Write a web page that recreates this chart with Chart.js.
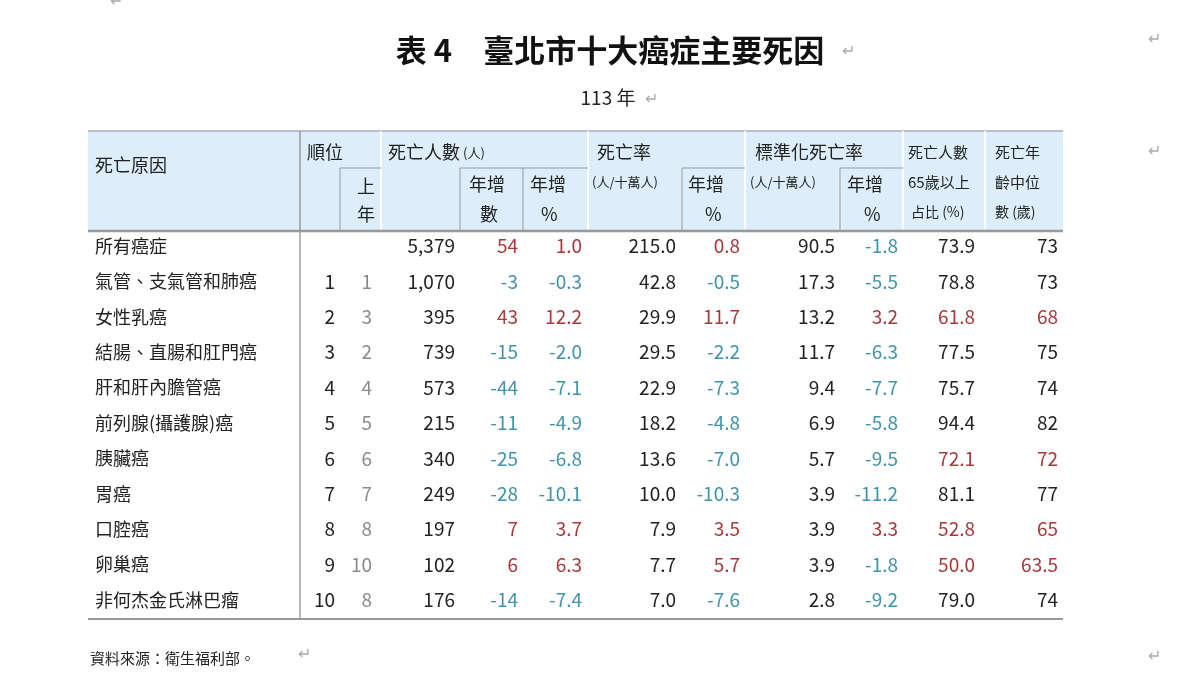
<!DOCTYPE html>
<html><head><meta charset="utf-8">
<script src="https://cdn.jsdelivr.net/npm/chart.js@4"></script>
<style>html,body{margin:0;padding:0;background:#fff}#w{width:1200px;height:675px}</style>
</head><body><div id="w"><canvas id="c"></canvas></div>
<script>
const causes=["所有癌症","氣管、支氣管和肺癌","女性乳癌","結腸、直腸和肛門癌","肝和肝內膽管癌","前列腺(攝護腺)癌","胰臟癌","胃癌","口腔癌","卵巢癌","非何杰金氏淋巴瘤"];
const rank=["","1","2","3","4","5","6","7","8","9","10"];
const rankPrev=["","1","3","2","4","5","6","7","8","10","8"];
const deaths=["5,379","1,070","395","739","573","215","340","249","197","102","176"];
const deathsChg=[54,-3,43,-15,-44,-11,-25,-28,7,6,-14];
const deathsPct=[1.0,-0.3,12.2,-2.0,-7.1,-4.9,-6.8,-10.1,3.7,6.3,-7.4];
const rate=[215.0,42.8,29.9,29.5,22.9,18.2,13.6,10.0,7.9,7.7,7.0];
const ratePct=[0.8,-0.5,11.7,-2.2,-7.3,-4.8,-7.0,-10.3,3.5,5.7,-7.6];
const stdRate=[90.5,17.3,13.2,11.7,9.4,6.9,5.7,3.9,3.9,3.9,2.8];
const stdPct=[-1.8,-5.5,3.2,-6.3,-7.7,-5.8,-9.5,-11.2,3.3,-1.8,-9.2];
const over65=[73.9,78.8,61.8,77.5,75.7,94.4,72.1,81.1,52.8,50.0,79.0];
const over65Red=[0,0,1,0,0,0,1,0,1,1,0];
const medianAge=["73","73","68","75","74","82","72","77","65","63.5","74"];
const medianRed=[0,0,1,0,0,0,1,0,1,1,0];

const RED="#a8383a",TEAL="#3f93aa",BLK="#222",GRY="#8a8a8a";
const F='"Noto Sans CJK TC","Noto Sans",sans-serif';
const plugin={id:'tbl',afterDraw(ch){
 const c=ch.ctx,X=v=>ch.scales.x.getPixelForValue(v),Y=v=>ch.scales.y.getPixelForValue(v);
 c.save();
 const t=(s,x,y,sz,col,al,bold)=>{c.font=(bold?'bold ':'')+sz+'px '+F;c.fillStyle=col||BLK;c.textAlign=al||'left';c.textBaseline='middle';c.fillText(s,X(x),Y(y));};
 const ln=(x1,y1,x2,y2,col,w)=>{c.strokeStyle=col;c.lineWidth=w||1;c.beginPath();c.moveTo(X(x1),Y(y1));c.lineTo(X(x2),Y(y2));c.stroke();};
 t("表 4　臺北市十大癌症主要死因",610,50,31,"#111",'center',true);
 t("113 年",608,98,19,"#222",'center');
 const ar=(x,y)=>t("↵",x,y,16,"#aaa");
 ar(842,50);ar(645,98);ar(1148,38);ar(1148,150);ar(1148,655);ar(298,653);ar(110,0);
 c.fillStyle="#ddeefa";c.fillRect(X(88),Y(131),X(1063)-X(88),Y(231)-Y(131));
 ln(88,131,1063,131,"#aab",1.5);
 [381,588,745,903,985].forEach(x=>ln(x,131,x,231,"#fff",2));
 ln(300,131,300,619,"#888",1.2);
 [[340,381],[460,588],[682,745],[840,903]].forEach(([a,b])=>ln(a,168,b,168,"#999",1));
 [340,460,523,682,840].forEach(x=>ln(x,168,x,231,"#999",1));
 ln(88,231,1063,231,"#999",2.5);
 ln(88,619,1063,619,"#999",2);
 const h=18;
 t("死亡原因",95,165,h);t("順位",307,152,h);t("上",357,186,h);t("年",357,214,h);
 t("死亡人數",388,152,h);t("(人)",463,153,13);
 t("年增",469,184,h);t("數",480,214,h);t("年增",530,184,h);t("%",541,214,h);
 t("死亡率",597,152,h);t("(人/十萬人)",592,182,13);t("年增",688,184,h);t("%",705,214,h);
 t("標準化死亡率",755,152,h);t("(人/十萬人)",750,182,13);t("年增",847,184,h);t("%",864,214,h);
 t("死亡人數",908,152,15);t("65歲以上",908,182,15);t("占比 (%)",911,212,14);
 t("死亡年",995,152,15);t("齡中位",995,182,15);t("數 (歲)",995,212,14);
 const sc=v=>v>=0?RED:TEAL,f1=v=>v.toFixed(1);
 causes.forEach((n,i)=>{const y=246+i*35.4,s=19;
  t(n,95,y,18);
  t(rank[i],335,y,s,BLK,'right');t(rankPrev[i],372,y,s,GRY,'right');
  t(deaths[i],455,y,s,BLK,'right');
  t(String(deathsChg[i]),518,y,s,sc(deathsChg[i]),'right');
  t(f1(deathsPct[i]),582,y,s,sc(deathsPct[i]),'right');
  t(f1(rate[i]),676,y,s,BLK,'right');
  t(f1(ratePct[i]),740,y,s,sc(ratePct[i]),'right');
  t(f1(stdRate[i]),835,y,s,BLK,'right');
  t(f1(stdPct[i]),898,y,s,sc(stdPct[i]),'right');
  t(f1(over65[i]),975,y,s,over65Red[i]?RED:BLK,'right');
  t(medianAge[i],1058,y,s,medianRed[i]?RED:BLK,'right');
 });
 t("資料來源：衛生福利部。",90,658,15);
 c.restore();
}};
new Chart(document.getElementById('c'),{type:'scatter',data:{datasets:[{data:[]}]},
 options:{responsive:true,maintainAspectRatio:false,animation:false,layout:{padding:0},
  plugins:{legend:{display:false},tooltip:{enabled:false}},
  scales:{x:{type:'linear',min:0,max:1200,display:false},y:{type:'linear',min:0,max:675,reverse:true,display:false}}},
 plugins:[plugin]});
</script></body></html>
